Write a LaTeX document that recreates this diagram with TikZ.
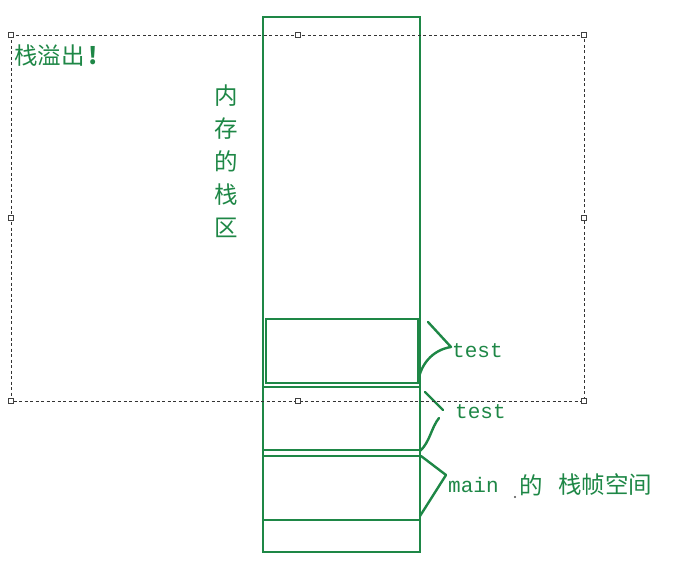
\documentclass[tikz,border=0pt]{standalone}
\usepackage{fontspec}
\setmonofont{Liberation Mono}
\newfontfamily\cjk{Noto Sans CJK SC}
\definecolor{gr}{RGB}{30,135,70}
\begin{document}
\begin{tikzpicture}[x=1pt,y=-1pt,
  box/.style={draw=gr, line width=2.7pt, inner sep=0, outer sep=0, anchor=north west},
  brace/.style={draw=gr, line width=2.4pt, line cap=round, line join=round},
  lbl/.style={text=gr, font=\fontsize{21}{21}\selectfont\ttfamily, anchor=west, inner sep=0},
  cn/.style={text=gr, font=\fontsize{23.5}{33}\selectfont\cjk, anchor=west, inner sep=0},
  sel/.style={draw=black!80, line width=0.6pt, dash pattern=on 3pt off 2.5pt},
  handle/.style={draw=black!75, fill=white, line width=0.6pt, minimum size=4.5pt, inner sep=0, shape=rectangle}]
\useasboundingbox (0,0) rectangle (680,586);

% stack
\node[box, minimum width=157pt, minimum height=535pt] (stack) at (263,17) {};
\node[box, minimum width=152pt, minimum height=64pt] (t1) at (266,319) {};
\node[box, minimum width=157pt, minimum height=63pt] (t2) at (263,387) {};
\node[box, minimum width=157pt, minimum height=64pt] (mf) at (263,456) {};

% texts
\node[cn] (ovf) at (14,56) {栈溢出\,{\bfseries !}};
\node[cn, anchor=center, align=center] (mem) at (226,161) {内\\存\\的\\栈\\区};
\node[lbl] (l1) at (452,351) {test};
\node[lbl] (l2) at (455,412) {test};
\node[lbl] (l3) at (448,485) {main};
\node[cn] (l4) at (519,485) {的};
\node[cn] (l5) at (558,485) {栈帧空间};
\fill[black!70] (515,497) circle (1.1pt);

% braces
\coordinate (b1a) at (428,322);
\coordinate (b1b) at (451,347);
\coordinate (b1c) at (418,383);
\draw[brace] (b1a) -- (b1b) .. controls (432,350) and (420,365) .. (b1c);
\coordinate (b2a) at (425,392);
\coordinate (b2b) at (443,410);
\coordinate (b2c) at (439,418);
\coordinate (b2d) at (420,451);
\draw[brace] (b2a) -- (b2b);
\draw[brace] (b2c) .. controls (431,428) and (430,442) .. (b2d);
\coordinate (b3a) at (421,456);
\coordinate (b3b) at (446,475);
\coordinate (b3c) at (420,516);
\draw[brace] (b3a) -- (b3b) -- (b3c);

% selection frame
\draw[sel] (11,35) rectangle (584,401);
\foreach \p [count=\i] in {(11,35),(298,35),(584,35),(11,218),(584,218),(11,401),(298,401),(584,401)}
  \node[handle] (h\i) at \p {};
\end{tikzpicture}
\end{document}
